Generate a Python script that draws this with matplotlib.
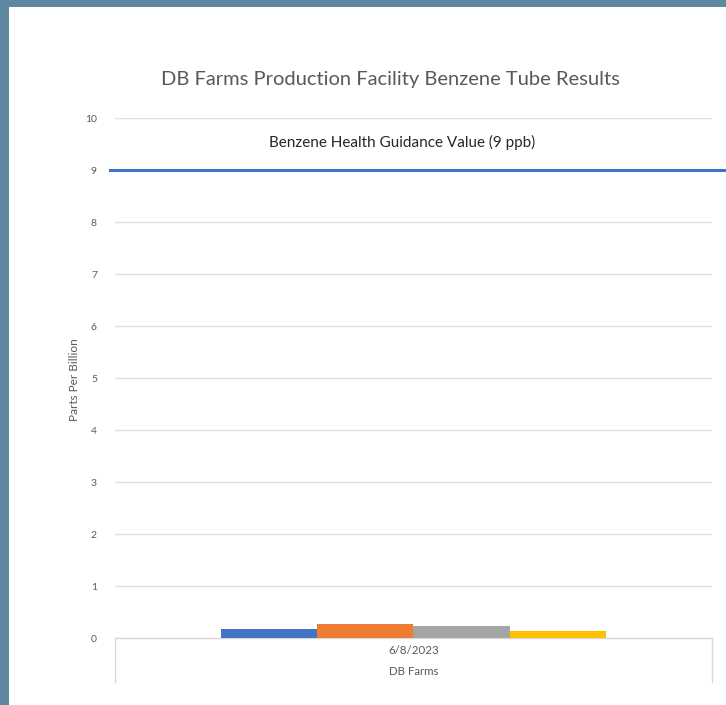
import matplotlib
matplotlib.use("Agg")
import matplotlib.pyplot as plt
from matplotlib.patches import Rectangle
from matplotlib.lines import Line2D

title = "DB Farms Production Facility Benzene Tube Results"
category = "6/8/2023"
group = "DB Farms"
series_values = [0.17, 0.26, 0.23, 0.13]
series_colors = ["#4472C4", "#ED7D31", "#A5A5A5", "#FFC000"]
guidance_value = 9
guidance_label = "Benzene Health Guidance Value (9 ppb)"
y_ticks = list(range(0, 11))
y_label = "Parts Per Billion"

plt.rcParams['font.family'] = ['Lato', 'DejaVu Sans']

W, H = 726, 705
fig = plt.figure(figsize=(W / 100, H / 100), dpi=100, facecolor="#5E87A0")
bg = Rectangle((9 / W, 0), 1, 1 - 7 / H, transform=fig.transFigure,
               facecolor="white", edgecolor="none", zorder=-10)
fig.add_artist(bg)

L, R, T, B = 115, 711.7, 118, 638
ax = fig.add_axes([L / W, 1 - B / H, (R - L) / W, (B - T) / H])
ax.set_facecolor("none")
ax.set_xlim(-0.5, 0.5)
ax.set_ylim(0, 10)
ax.set_yticks(y_ticks)
ax.set_yticklabels([str(v) for v in y_ticks])
ax.tick_params(axis='y', length=0, pad=13, labelsize=7.5, labelcolor="#595959")
ax.set_xticks([])
for s in ["top", "right", "left"]:
    ax.spines[s].set_visible(False)
ax.spines["bottom"].set_color("#D9D9D9")
ax.spines["bottom"].set_linewidth(1)
ax.grid(axis='y', color="#E0E0E0", linewidth=1)
ax.set_axisbelow(True)

group_width = 385 / (R - L)
bw = group_width / len(series_values)
for i, (v, c) in enumerate(zip(series_values, series_colors)):
    ax.bar(-group_width / 2 + bw * (i + 0.5), v, width=bw, color=c, zorder=3)

# guidance line
ax.plot([(110 - L) / (R - L), (726 - L) / (R - L)], [guidance_value, guidance_value],
        transform=ax.get_yaxis_transform(), color="#4472C4", linewidth=2.2,
        clip_on=False, zorder=4)
ax.text(402.5 / W, 1 - 142 / H, guidance_label, transform=fig.transFigure,
        ha="center", va="center", fontsize=11, color="#262626")

# category box
for xx in [0, 1]:
    ax.add_line(Line2D([xx, xx], [0, -(681.7 - B) / (B - T)], transform=ax.transAxes,
                       color="#D9D9D9", linewidth=1, clip_on=False))
ax.text(0.5, -(650.7 - B) / (B - T), category, transform=ax.transAxes,
        ha="center", va="center", fontsize=8.3, color="#595959")
ax.text(0.5, -(671.7 - B) / (B - T), group, transform=ax.transAxes,
        ha="center", va="center", fontsize=8.3, color="#595959")

fig.text(390 / W, 1 - 79 / H, title, ha="center", va="center", fontsize=14.5, color="#595959")
fig.text(74 / W, 1 - 380 / H, y_label, ha="center", va="center", rotation=90,
         fontsize=8.5, color="#595959")

fig.savefig("out.png", dpi=100, facecolor=fig.get_facecolor())
